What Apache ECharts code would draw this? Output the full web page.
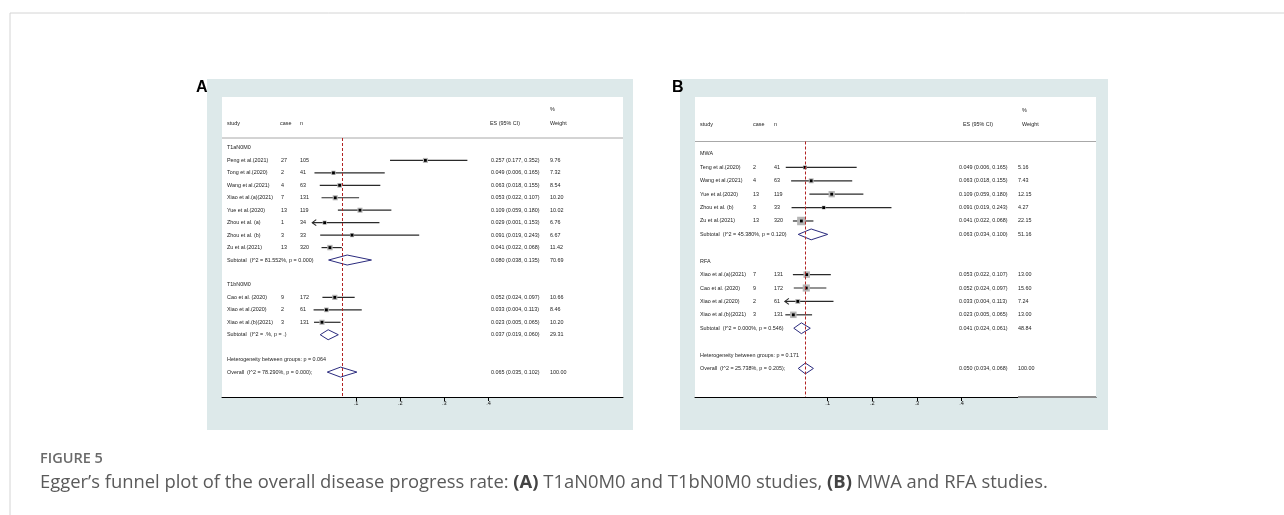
<!DOCTYPE html>
<html>
<head>
<meta charset="utf-8">
<title>Figure 5</title>
<script src="https://cdn.jsdelivr.net/npm/echarts@6/dist/echarts.min.js"></script>
<style>
html, body { margin: 0; padding: 0; background: #fff; }
#chart { width: 1284px; height: 515px; }
</style>
</head>
<body>
<div id="chart"></div>
<script>
// ---------- panel A : T1aN0M0 / T1bN0M0 ----------
const kindA = ['group', 'study', 'study', 'study', 'study', 'study', 'study', 'study', 'study', 'sub', 'blank',
  'group', 'study', 'study', 'study', 'sub', 'blank', 'het', 'overall'];
const labelA = ['T1aN0M0', 'Peng et al.(2021)', 'Tong et al.(2020)', 'Wang et al.(2021)', 'Xiao et al.(a)(2021)',
  'Yue et al.(2020)', 'Zhou et al. (a)', 'Zhou et al. (b)', 'Zu et al.(2021)',
  'Subtotal  (I^2 = 81.552%, p = 0.000)', '',
  'T1bN0M0', 'Cao et al. (2020)', 'Xiao et al.(2020)', 'Xiao et al.(b)(2021)',
  'Subtotal  (I^2 = .%, p = .)', '',
  'Heterogeneity between groups: p = 0.064', 'Overall  (I^2 = 78.290%, p = 0.000);'];
const caseA = ['', '27', '2', '4', '7', '13', '1', '3', '13', '', '', '', '9', '2', '3', '', '', '', ''];
const nA = ['', '105', '41', '63', '131', '119', '34', '33', '320', '', '', '', '172', '61', '131', '', '', '', ''];
const esA = [null, 0.257, 0.049, 0.063, 0.053, 0.109, 0.029, 0.091, 0.041, 0.080, null,
  null, 0.052, 0.033, 0.023, 0.037, null, null, 0.065];
const loA = [null, 0.177, 0.006, 0.018, 0.022, 0.059, 0.001, 0.019, 0.022, 0.038, null,
  null, 0.024, 0.004, 0.005, 0.019, null, null, 0.035];
const hiA = [null, 0.352, 0.165, 0.155, 0.107, 0.180, 0.153, 0.243, 0.068, 0.135, null,
  null, 0.097, 0.113, 0.065, 0.060, null, null, 0.102];
const weightA = [null, 9.76, 7.32, 8.54, 10.20, 10.02, 6.76, 6.67, 11.42, 70.69, null,
  null, 10.66, 8.46, 10.20, 29.31, null, null, 100.00];
const floorA = 0.002; // CI below this is drawn as an arrow

// ---------- panel B : MWA / RFA ----------
const kindB = ['group', 'study', 'study', 'study', 'study', 'study', 'sub', 'blank',
  'group', 'study', 'study', 'study', 'study', 'sub', 'blank', 'het', 'overall'];
const labelB = ['MWA', 'Teng et al.(2020)', 'Wang et al.(2021)', 'Yue et al.(2020)', 'Zhou et al. (b)', 'Zu et al.(2021)',
  'Subtotal  (I^2 = 45.380%, p = 0.120)', '',
  'RFA', 'Xiao et al.(a)(2021)', 'Cao et al. (2020)', 'Xiao et al.(2020)', 'Xiao et al.(b)(2021)',
  'Subtotal  (I^2 = 0.000%, p = 0.546)', '',
  'Heterogeneity between groups: p = 0.171', 'Overall  (I^2 = 25.738%, p = 0.205);'];
const caseB = ['', '2', '4', '13', '3', '13', '', '', '', '7', '9', '2', '3', '', '', '', ''];
const nB = ['', '41', '63', '119', '33', '320', '', '', '', '131', '172', '61', '131', '', '', '', ''];
const esB = [null, 0.049, 0.063, 0.109, 0.091, 0.041, 0.063, null,
  null, 0.053, 0.052, 0.033, 0.023, 0.041, null, null, 0.050];
const loB = [null, 0.006, 0.018, 0.059, 0.019, 0.022, 0.034, null,
  null, 0.022, 0.024, 0.004, 0.005, 0.024, null, null, 0.034];
const hiB = [null, 0.165, 0.155, 0.180, 0.243, 0.068, 0.100, null,
  null, 0.107, 0.097, 0.113, 0.065, 0.061, null, null, 0.068];
const weightB = [null, 5.16, 7.43, 12.15, 4.27, 22.15, 51.16, null,
  null, 13.00, 15.60, 7.24, 13.00, 48.84, null, null, 100.00];
const floorB = 0.005;

// axis ticks (both panels)
const tickValues = [0.1, 0.2, 0.3, 0.4];

// caption
const figTitle = 'FIGURE 5';
const figCaption = 'Egger’s funnel plot of the overall disease progress rate: {b|(A)} T1aN0M0 and T1bN0M0 studies, {b|(B)} MWA and RFA studies.';

const FONT = '"Liberation Sans", Arial, sans-serif';
const TXT = '#222';
const FS = 5.4;

// 组装行数据
const makeRows = (kind, label, cases, ns, es, lo, hi, w) =>
  kind.map((k, i) => ({ kind: k, label: label[i], cases: cases[i], n: ns[i], es: es[i], lo: lo[i], hi: hi[i], w: w[i] }));

const rowsA = makeRows(kindA, labelA, caseA, nA, esA, loA, hiA, weightA);
const rowsB = makeRows(kindB, labelB, caseB, nB, esB, loB, hiB, weightB);

// 面板布局（像素）
const panels = [
  { rows: rowsA, floor: floorA, box: 1.6, half: 5,
    grid: { left: 222, top: 138, width: 401, height: 259 },
    x: [-0.2032, 0.7041], y: [-0.8, 20],
    cols: { name: 227, cases: 281, n: 300, es: 491, w: 550 } },
  { rows: rowsB, floor: floorB, box: 1.8, half: 5.4,
    grid: { left: 695, top: 141.5, width: 401, height: 255.5 },
    x: [-0.1975, 0.7016], y: [-0.93, 18.13],
    cols: { name: 700, cases: 753, n: 774, es: 959, w: 1018 } }
];

const txt = (x, y, s, extra) => ({
  type: 'text',
  style: Object.assign({ x, y, text: s, fontSize: FS, fontFamily: FONT, fill: TXT, align: 'left', verticalAlign: 'middle' }, extra || {})
});

const fmt = (v) => v.toFixed(3);

const renderRow = (p) => (params, api) => {
  const r = p.rows[params.dataIndex];
  const y = api.coord([0, params.dataIndex])[1];
  const c = p.cols;
  const children = [];
  if (r.label) children.push(txt(c.name, y, r.label));
  if (r.cases) children.push(txt(c.cases, y, r.cases));
  if (r.n) children.push(txt(c.n, y, r.n));
  if (r.es != null) {
    children.push(txt(c.es, y, `${fmt(r.es)} (${fmt(r.lo)}, ${fmt(r.hi)})`));
    children.push(txt(c.w, y, r.w.toFixed(2)));
    const xe = api.coord([r.es, 0])[0];
    const xl = api.coord([r.lo, 0])[0];
    const xh = api.coord([r.hi, 0])[0];
    if (r.kind === 'study') {
      children.push({ type: 'line', shape: { x1: xl, y1: y, x2: xh, y2: y }, style: { stroke: '#2a2a2a', lineWidth: 1.2 } });
      if (r.lo < p.floor) {
        children.push({ type: 'polyline', shape: { points: [[xl + 4, y - 3], [xl, y], [xl + 4, y + 3]] }, style: { stroke: '#2a2a2a', lineWidth: 1.1, fill: null } });
      }
      const s = p.box * Math.sqrt(r.w);
      children.push({ type: 'rect', shape: { x: xe - s / 2, y: y - s / 2, width: s, height: s }, style: { fill: '#b5b5b5' } });
      children.push({ type: 'rect', shape: { x: xe - 1.4, y: y - 1.4, width: 2.8, height: 2.8 }, style: { fill: '#000' } });
    } else {
      const h = p.half;
      children.push({ type: 'polygon', shape: { points: [[xl, y], [xe, y - h], [xh, y], [xe, y + h]] }, style: { stroke: '#2b2b7e', lineWidth: 1, fill: null } });
    }
  }
  return { type: 'group', children };
};

const overallOf = (rows) => rows.find(r => r.kind === 'overall').es;

const option = {
  animation: false,
  grid: panels.map(p => Object.assign({ containLabel: false }, p.grid)),
  xAxis: panels.map((p, i) => ({
    type: 'value',
    gridIndex: i,
    min: p.x[0],
    max: p.x[1],
    splitLine: { show: false },
    axisLine: { show: true, onZero: false, lineStyle: { color: '#000', width: 1 } },
    axisTick: { show: true, customValues: tickValues, length: 4, lineStyle: { color: '#000', width: 1 } },
    axisLabel: { customValues: tickValues, formatter: v => String(v).replace(/^0/, ''), fontSize: 5.6, fontFamily: FONT, color: '#111', margin: 3 }
  })),
  yAxis: panels.map((p, i) => ({ type: 'value', gridIndex: i, min: p.y[0], max: p.y[1], inverse: true, show: false })),
  series: panels.map((p, i) => ({
    type: 'custom',
    xAxisIndex: i,
    yAxisIndex: i,
    data: p.rows.map((r, k) => [r.es == null ? 0 : r.es, k]),
    renderItem: renderRow(p),
    silent: true,
    markLine: {
      silent: true,
      symbol: 'none',
      label: { show: false },
      lineStyle: { color: '#b22222', type: [3, 2], width: 1 },
      data: [{ xAxis: overallOf(p.rows) }]
    }
  })),
  graphic: [
    // 页面边框
    { type: 'line', shape: { x1: 10, y1: 13, x2: 1284, y2: 13 }, style: { stroke: '#d4d4d4', lineWidth: 1 }, z: -5 },
    { type: 'line', shape: { x1: 10, y1: 13, x2: 10, y2: 515 }, style: { stroke: '#d4d4d4', lineWidth: 1 }, z: -5 },
    // 面板背景
    { type: 'rect', shape: { x: 207, y: 79, width: 426, height: 351 }, style: { fill: '#dde9ea' }, z: -5 },
    { type: 'rect', shape: { x: 222, y: 97, width: 401, height: 300 }, style: { fill: '#fff' }, z: -4 },
    { type: 'rect', shape: { x: 680, y: 79, width: 428, height: 351 }, style: { fill: '#dde9ea' }, z: -5 },
    { type: 'rect', shape: { x: 695, y: 97, width: 401, height: 300 }, style: { fill: '#fff' }, z: -4 },
    { type: 'line', shape: { x1: 1018, y1: 397, x2: 1096, y2: 397 }, style: { stroke: '#8c8c8c', lineWidth: 2 }, z: 20 },
    // 面板字母
    { type: 'text', style: { x: 196, y: 88, text: 'A', fontSize: 16, fontWeight: 'bold', fontFamily: FONT, fill: '#000', verticalAlign: 'middle' } },
    { type: 'text', style: { x: 672, y: 88, text: 'B', fontSize: 16, fontWeight: 'bold', fontFamily: FONT, fill: '#000', verticalAlign: 'middle' } },
    // 表头 A
    txt(550, 110, '%'), txt(227, 124, 'study'), txt(280, 124, 'case'), txt(300, 124, 'n'),
    txt(490, 124, 'ES (95% CI)'), txt(550, 124, 'Weight'),
    { type: 'line', shape: { x1: 222, y1: 138, x2: 623, y2: 138 }, style: { stroke: '#a8a8a8', lineWidth: 1 } },
    // 表头 B
    txt(1022, 110.5, '%'), txt(700, 124.5, 'study'), txt(753, 124.5, 'case'), txt(774, 124.5, 'n'),
    txt(963, 124.5, 'ES (95% CI)'), txt(1022, 124.5, 'Weight'),
    { type: 'line', shape: { x1: 695, y1: 141.5, x2: 1096, y2: 141.5 }, style: { stroke: '#a8a8a8', lineWidth: 1 } },
    // 图注
    { type: 'text', style: { x: 40, y: 459, text: figTitle, fontSize: 14.5, fontWeight: 600, fontFamily: '"Open Sans", sans-serif', fill: '#6a6a6a', verticalAlign: 'middle' } },
    { type: 'text', style: { x: 40, y: 483, text: figCaption, fontSize: 18.4, fontFamily: '"Open Sans", sans-serif', fill: '#5a5a5a', verticalAlign: 'middle',
      rich: { b: { fontSize: 18.4, fontWeight: 'bold', fontFamily: '"Open Sans", sans-serif', fill: '#444', verticalAlign: 'middle' } } } }
  ]
};

const myChart = echarts.init(document.getElementById('chart'));
myChart.setOption(option);
window.addEventListener('resize', () => myChart.resize());
</script>
</body>
</html>
